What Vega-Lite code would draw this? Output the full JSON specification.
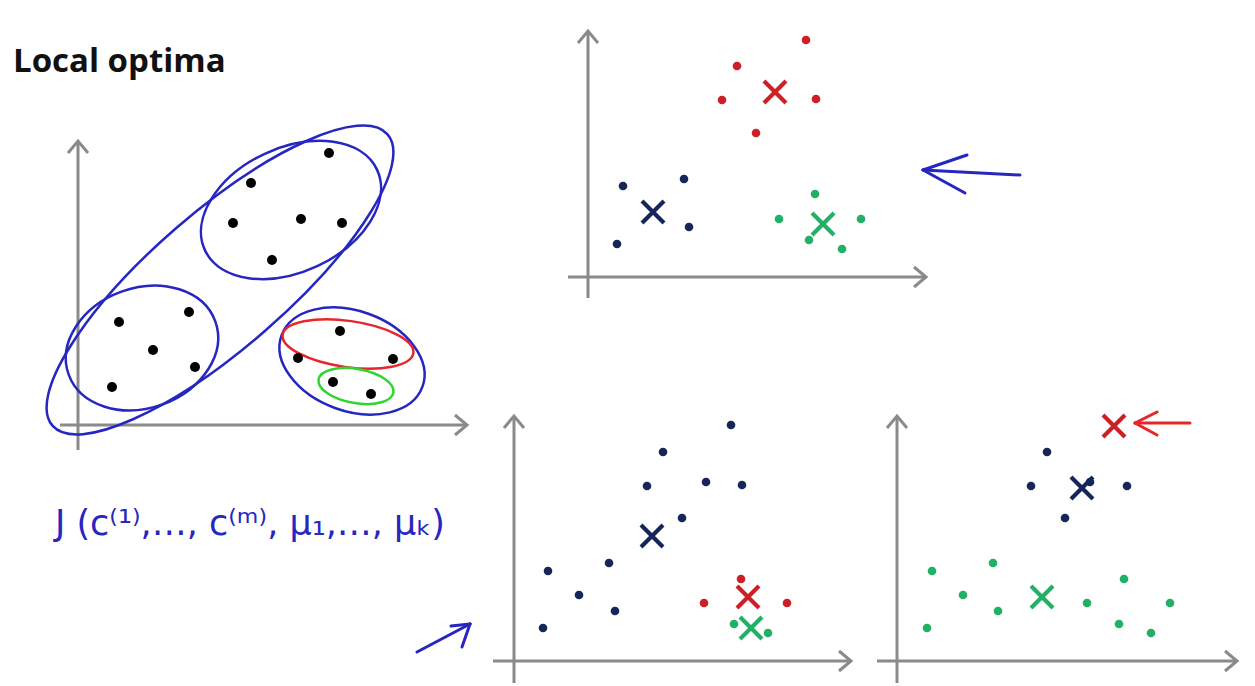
{
  "$schema": "https://vega.github.io/schema/vega-lite/v6.json",
  "width": 1255,
  "height": 686,
  "autosize": {"type": "none"},
  "padding": 0,
  "background": "white",
  "config": {"view": {"stroke": null}},
  "datasets": {
    "axes": [
      {"panel": "A", "x": 78, "y": 450, "x2": 78, "y2": 141},
      {"panel": "A", "x": 60, "y": 425, "x2": 467, "y2": 425},
      {"panel": "B", "x": 588, "y": 298, "x2": 588, "y2": 31},
      {"panel": "B", "x": 568, "y": 277, "x2": 926, "y2": 277},
      {"panel": "C", "x": 514, "y": 683, "x2": 514, "y2": 416},
      {"panel": "C", "x": 493, "y": 661, "x2": 851, "y2": 661},
      {"panel": "D", "x": 897, "y": 683, "x2": 897, "y2": 416},
      {"panel": "D", "x": 877, "y": 661, "x2": 1237, "y2": 661}
    ],
    "axisTips": [
      {"panel": "A", "dir": "up", "x": 78, "y": 141},
      {"panel": "A", "dir": "right", "x": 467, "y": 425},
      {"panel": "B", "dir": "up", "x": 588, "y": 31},
      {"panel": "B", "dir": "right", "x": 926, "y": 277},
      {"panel": "C", "dir": "up", "x": 514, "y": 416},
      {"panel": "C", "dir": "right", "x": 851, "y": 661},
      {"panel": "D", "dir": "up", "x": 897, "y": 416},
      {"panel": "D", "dir": "right", "x": 1237, "y": 661}
    ],
    "points": [
      {"panel": "A", "group": "data", "x": 329, "y": 153},
      {"panel": "A", "group": "data", "x": 251, "y": 183},
      {"panel": "A", "group": "data", "x": 233, "y": 223},
      {"panel": "A", "group": "data", "x": 301, "y": 219},
      {"panel": "A", "group": "data", "x": 342, "y": 223},
      {"panel": "A", "group": "data", "x": 272, "y": 260},
      {"panel": "A", "group": "data", "x": 119, "y": 322},
      {"panel": "A", "group": "data", "x": 189, "y": 312},
      {"panel": "A", "group": "data", "x": 153, "y": 350},
      {"panel": "A", "group": "data", "x": 195, "y": 367},
      {"panel": "A", "group": "data", "x": 112, "y": 387},
      {"panel": "A", "group": "data", "x": 340, "y": 331},
      {"panel": "A", "group": "data", "x": 298, "y": 358},
      {"panel": "A", "group": "data", "x": 393, "y": 359},
      {"panel": "A", "group": "data", "x": 333, "y": 382},
      {"panel": "A", "group": "data", "x": 371, "y": 394},
      {"panel": "B", "group": "red", "x": 806, "y": 40},
      {"panel": "B", "group": "red", "x": 737, "y": 66},
      {"panel": "B", "group": "red", "x": 722, "y": 100},
      {"panel": "B", "group": "red", "x": 816, "y": 99},
      {"panel": "B", "group": "red", "x": 756, "y": 133},
      {"panel": "B", "group": "navy", "x": 623, "y": 186},
      {"panel": "B", "group": "navy", "x": 684, "y": 179},
      {"panel": "B", "group": "navy", "x": 689, "y": 227},
      {"panel": "B", "group": "navy", "x": 617, "y": 244},
      {"panel": "B", "group": "green", "x": 815, "y": 194},
      {"panel": "B", "group": "green", "x": 779, "y": 219},
      {"panel": "B", "group": "green", "x": 861, "y": 219},
      {"panel": "B", "group": "green", "x": 809, "y": 240},
      {"panel": "B", "group": "green", "x": 842, "y": 249},
      {"panel": "C", "group": "navy", "x": 731, "y": 425},
      {"panel": "C", "group": "navy", "x": 663, "y": 452},
      {"panel": "C", "group": "navy", "x": 647, "y": 486},
      {"panel": "C", "group": "navy", "x": 706, "y": 482},
      {"panel": "C", "group": "navy", "x": 742, "y": 485},
      {"panel": "C", "group": "navy", "x": 682, "y": 518},
      {"panel": "C", "group": "navy", "x": 609, "y": 563},
      {"panel": "C", "group": "navy", "x": 548, "y": 571},
      {"panel": "C", "group": "navy", "x": 579, "y": 595},
      {"panel": "C", "group": "navy", "x": 615, "y": 611},
      {"panel": "C", "group": "navy", "x": 543, "y": 628},
      {"panel": "C", "group": "red", "x": 741, "y": 579},
      {"panel": "C", "group": "red", "x": 704, "y": 603},
      {"panel": "C", "group": "red", "x": 787, "y": 603},
      {"panel": "C", "group": "green", "x": 734, "y": 624},
      {"panel": "C", "group": "green", "x": 768, "y": 633},
      {"panel": "D", "group": "navy", "x": 1047, "y": 452},
      {"panel": "D", "group": "navy", "x": 1031, "y": 486},
      {"panel": "D", "group": "navy", "x": 1090, "y": 482},
      {"panel": "D", "group": "navy", "x": 1127, "y": 486},
      {"panel": "D", "group": "navy", "x": 1065, "y": 518},
      {"panel": "D", "group": "green", "x": 932, "y": 571},
      {"panel": "D", "group": "green", "x": 993, "y": 563},
      {"panel": "D", "group": "green", "x": 963, "y": 595},
      {"panel": "D", "group": "green", "x": 998, "y": 611},
      {"panel": "D", "group": "green", "x": 927, "y": 628},
      {"panel": "D", "group": "green", "x": 1087, "y": 603},
      {"panel": "D", "group": "green", "x": 1124, "y": 579},
      {"panel": "D", "group": "green", "x": 1170, "y": 603},
      {"panel": "D", "group": "green", "x": 1119, "y": 624},
      {"panel": "D", "group": "green", "x": 1151, "y": 633}
    ],
    "centroids": [
      {"panel": "B", "group": "red", "x": 775, "y": 92},
      {"panel": "B", "group": "navy", "x": 653, "y": 212},
      {"panel": "B", "group": "green", "x": 823, "y": 224},
      {"panel": "C", "group": "navy", "x": 652, "y": 536},
      {"panel": "C", "group": "red", "x": 748, "y": 597},
      {"panel": "C", "group": "green", "x": 751, "y": 628},
      {"panel": "D", "group": "red", "x": 1114, "y": 426},
      {"panel": "D", "group": "navy", "x": 1082, "y": 488},
      {"panel": "D", "group": "green", "x": 1042, "y": 597}
    ],
    "ellipses": [
      {"name": "outer", "x": 220, "y": 280},
      {"name": "top", "x": 291, "y": 210},
      {"name": "left", "x": 142, "y": 348},
      {"name": "right", "x": 352, "y": 361},
      {"name": "redsplit", "x": 348, "y": 344},
      {"name": "greensplit", "x": 356, "y": 386}
    ],
    "strokes": [
      {"ink": "blueInk", "x": 923, "y": 170, "x2": 1020, "y2": 175},
      {"ink": "blueInk", "x": 967, "y": 155, "x2": 923, "y2": 170},
      {"ink": "blueInk", "x": 923, "y": 170, "x2": 965, "y2": 193},
      {"ink": "redInk", "x": 1135, "y": 423, "x2": 1190, "y2": 423},
      {"ink": "redInk", "x": 1157, "y": 412, "x2": 1135, "y2": 423},
      {"ink": "redInk", "x": 1135, "y": 423, "x2": 1157, "y2": 435},
      {"ink": "blueInk", "x": 417, "y": 652, "x2": 470, "y2": 624},
      {"ink": "blueInk", "x": 451, "y": 626, "x2": 470, "y2": 624},
      {"ink": "blueInk", "x": 470, "y": 624, "x2": 462, "y2": 647}
    ],
    "texts": [
      {"name": "title", "label": "Local optima", "x": 13, "y": 72},
      {"name": "formula", "label": "J (c⁽¹⁾,…, c⁽ᵐ⁾, μ₁,…, μₖ)", "x": 55, "y": 535}
    ]
  },
  "encoding": {
    "x": {"field": "x", "type": "quantitative", "scale": {"domain": [0, 1255], "nice": false, "zero": false}, "axis": null},
    "y": {"field": "y", "type": "quantitative", "scale": {"domain": [0, 686], "nice": false, "zero": false, "reverse": true}, "axis": null}
  },
  "layer": [
    {
      "data": {"name": "axes"},
      "mark": {"type": "rule", "color": "#8a8a8a", "strokeWidth": 3},
      "encoding": {"x2": {"field": "x2"}, "y2": {"field": "y2"}}
    },
    {
      "data": {"name": "axisTips"},
      "transform": [{"filter": "datum.dir === 'up'"}],
      "mark": {"type": "point", "shape": "M -1 1.2 L 0 0 L 1 1.2", "size": 400, "filled": false, "color": "#8a8a8a", "strokeWidth": 3, "opacity": 1}
    },
    {
      "data": {"name": "axisTips"},
      "transform": [{"filter": "datum.dir === 'right'"}],
      "mark": {"type": "point", "shape": "M -1.2 -1 L 0 0 L -1.2 1", "size": 400, "filled": false, "color": "#8a8a8a", "strokeWidth": 3, "opacity": 1}
    },
    {
      "data": {"name": "ellipses"},
      "transform": [{"filter": "datum.name === 'outer'"}],
      "mark": {"type": "point", "shape": "M -1 0 A 1 0.306 0 1 0 1 0 A 1 0.306 0 1 0 -1 0 Z", "size": 197136, "angle": -41, "filled": false, "color": "#2626c0", "strokeWidth": 2.5, "opacity": 1}
    },
    {
      "data": {"name": "ellipses"},
      "transform": [{"filter": "datum.name === 'top'"}],
      "mark": {"type": "point", "shape": "M -1 0 A 1 0.653 0 1 0 1 0 A 1 0.653 0 1 0 -1 0 Z", "size": 36100, "angle": -25, "filled": false, "color": "#2626c0", "strokeWidth": 2.5, "opacity": 1}
    },
    {
      "data": {"name": "ellipses"},
      "transform": [{"filter": "datum.name === 'left'"}],
      "mark": {"type": "point", "shape": "M -1 0 A 1 0.77 0 1 0 1 0 A 1 0.77 0 1 0 -1 0 Z", "size": 24336, "angle": -20, "filled": false, "color": "#2626c0", "strokeWidth": 2.5, "opacity": 1}
    },
    {
      "data": {"name": "ellipses"},
      "transform": [{"filter": "datum.name === 'right'"}],
      "mark": {"type": "point", "shape": "M -1 0 A 1 0.667 0 1 0 1 0 A 1 0.667 0 1 0 -1 0 Z", "size": 22500, "angle": 20, "filled": false, "color": "#2626c0", "strokeWidth": 2.5, "opacity": 1}
    },
    {
      "data": {"name": "ellipses"},
      "transform": [{"filter": "datum.name === 'redsplit'"}],
      "mark": {"type": "point", "shape": "M -1 0 A 1 0.35 0 1 0 1 0 A 1 0.35 0 1 0 -1 0 Z", "size": 17424, "angle": 8, "filled": false, "color": "#e8262a", "strokeWidth": 2.5, "opacity": 1}
    },
    {
      "data": {"name": "ellipses"},
      "transform": [{"filter": "datum.name === 'greensplit'"}],
      "mark": {"type": "point", "shape": "M -1 0 A 1 0.45 0 1 0 1 0 A 1 0.45 0 1 0 -1 0 Z", "size": 5776, "angle": 10, "filled": false, "color": "#2ed62e", "strokeWidth": 2.5, "opacity": 1}
    },
    {
      "data": {"name": "points"},
      "transform": [{"filter": "datum.panel === 'A'"}],
      "mark": {"type": "circle", "size": 100, "opacity": 1},
      "encoding": {
        "color": {"field": "group", "type": "nominal", "scale": {"domain": ["data", "navy", "red", "green", "blueInk", "redInk"], "range": ["#000000", "#17265a", "#cc1f26", "#20b066", "#2626c0", "#e8262a"]}, "legend": null}
      }
    },
    {
      "data": {"name": "points"},
      "transform": [{"filter": "datum.panel !== 'A'"}],
      "mark": {"type": "circle", "size": 75, "opacity": 1},
      "encoding": {
        "color": {"field": "group", "type": "nominal", "scale": {"domain": ["data", "navy", "red", "green", "blueInk", "redInk"], "range": ["#000000", "#17265a", "#cc1f26", "#20b066", "#2626c0", "#e8262a"]}, "legend": null}
      }
    },
    {
      "data": {"name": "centroids"},
      "mark": {"type": "point", "shape": "M -1 -1 L 1 1 M -1 1 L 1 -1", "size": 484, "filled": false, "strokeWidth": 4.2, "opacity": 1},
      "encoding": {
        "color": {"field": "group", "type": "nominal", "scale": {"domain": ["data", "navy", "red", "green", "blueInk", "redInk"], "range": ["#000000", "#17265a", "#cc1f26", "#20b066", "#2626c0", "#e8262a"]}, "legend": null}
      }
    },
    {
      "data": {"name": "strokes"},
      "mark": {"type": "rule", "strokeWidth": 3, "strokeCap": "round"},
      "encoding": {
        "x2": {"field": "x2"},
        "y2": {"field": "y2"},
        "color": {"field": "ink", "type": "nominal", "scale": {"domain": ["data", "navy", "red", "green", "blueInk", "redInk"], "range": ["#000000", "#17265a", "#cc1f26", "#20b066", "#2626c0", "#e8262a"]}, "legend": null}
      }
    },
    {
      "data": {"name": "texts"},
      "transform": [{"filter": "datum.name === 'title'"}],
      "mark": {"type": "text", "align": "left", "baseline": "alphabetic", "font": "Open Sans", "fontWeight": "bold", "fontSize": 33, "color": "#111111"},
      "encoding": {"text": {"field": "label"}}
    },
    {
      "data": {"name": "texts"},
      "transform": [{"filter": "datum.name === 'formula'"}],
      "mark": {"type": "text", "align": "left", "baseline": "alphabetic", "font": "DejaVu Sans", "fontSize": 35, "color": "#2626c0"},
      "encoding": {"text": {"field": "label"}}
    }
  ]
}
